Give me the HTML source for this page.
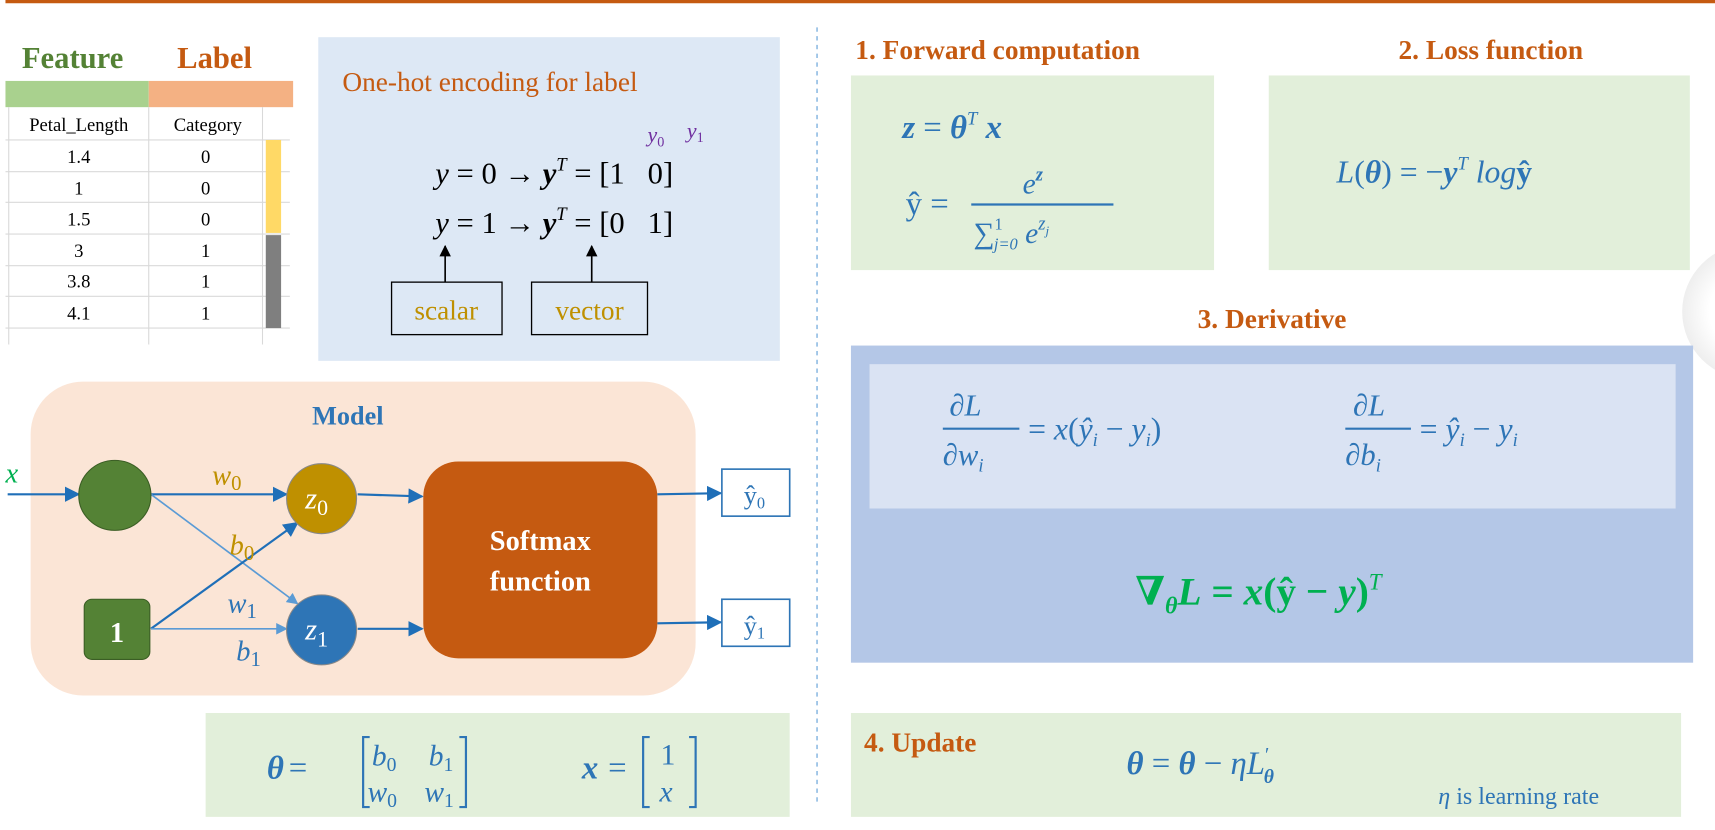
<!DOCTYPE html>
<html><head><meta charset="utf-8"><style>
body{margin:0;background:#fff;}
svg{display:block;font-family:"Liberation Serif","DejaVu Serif",serif;}
.m{font-style:italic;}
</style></head><body>
<svg width="1715" height="830" viewBox="0 0 1568 759" preserveAspectRatio="none">
<defs>
<marker id="ab" viewBox="0 0 10 10" refX="9" refY="5" markerWidth="7" markerHeight="7" orient="auto"><path d="M0,0L10,5L0,10z" fill="#1f6fb8"/></marker>
<marker id="ak" viewBox="0 0 10 10" refX="9" refY="5" markerWidth="7" markerHeight="7" orient="auto"><path d="M0,0L10,5L0,10z" fill="#000"/></marker>
<marker id="al" viewBox="0 0 10 10" refX="9" refY="5" markerWidth="7" markerHeight="7" orient="auto"><path d="M0,0L10,5L0,10z" fill="#5b9bd5"/></marker>
<radialGradient id="sh"><stop offset="0.6" stop-color="#fff"/><stop offset="1" stop-color="#eee"/></radialGradient>
</defs>
<line x1="5" y1="1.5" x2="1568" y2="1.5" stroke="#c55a11" stroke-width="3"/>

<g>
<text x="20" y="62" font-size="28" font-weight="bold" fill="#548235">Feature</text>
<text x="162" y="62" font-size="28" font-weight="bold" fill="#c55a11">Label</text>
<rect x="5" y="74" width="131" height="24" fill="#a9d18e"/>
<rect x="136" y="74" width="132" height="24" fill="#f4b183"/>
<g stroke="#d9d9d9" stroke-width="1">
<line x1="5" y1="128" x2="265" y2="128"/><line x1="5" y1="157" x2="265" y2="157"/><line x1="5" y1="185" x2="265" y2="185"/><line x1="5" y1="214" x2="265" y2="214"/><line x1="5" y1="243" x2="265" y2="243"/><line x1="5" y1="271" x2="265" y2="271"/><line x1="5" y1="300" x2="265" y2="300"/>
<line x1="8" y1="98" x2="8" y2="315"/><line x1="136" y1="98" x2="136" y2="315"/><line x1="240" y1="98" x2="240" y2="315"/>
</g>
<g font-size="17" text-anchor="middle">
<text x="72" y="120">Petal_Length</text><text x="190" y="120">Category</text>
<text x="72" y="149">1.4</text><text x="188" y="149">0</text>
<text x="72" y="178">1</text><text x="188" y="178">0</text>
<text x="72" y="206">1.5</text><text x="188" y="206">0</text>
<text x="72" y="235">3</text><text x="188" y="235">1</text>
<text x="72" y="263">3.8</text><text x="188" y="263">1</text>
<text x="72" y="292">4.1</text><text x="188" y="292">1</text>
</g>
<rect x="243" y="128" width="14" height="85" fill="#ffd966"/>
<rect x="243" y="215" width="14" height="85" fill="#7f7f7f"/>
</g>

<g>
<rect x="291" y="34" width="422" height="296" fill="#dde8f5"/>
<text x="313" y="83" font-size="25" fill="#c55a11">One-hot encoding for label</text>
<text x="592" y="130" font-size="20" fill="#7030a0" class="m">y<tspan font-size="13" dy="4" font-style="normal">0</tspan></text>
<text x="628" y="126" font-size="20" fill="#7030a0" class="m">y<tspan font-size="13" dy="4" font-style="normal">1</tspan></text>
<text x="398" y="168" font-size="28"><tspan class="m">y</tspan> = 0 → <tspan font-weight="bold" class="m">y</tspan><tspan class="m" font-size="17" dy="-12">T</tspan><tspan dy="12"> = [1&#160;&#160;&#160;0]</tspan></text>
<text x="398" y="213" font-size="28"><tspan class="m">y</tspan> = 1 → <tspan font-weight="bold" class="m">y</tspan><tspan class="m" font-size="17" dy="-12">T</tspan><tspan dy="12"> = [0&#160;&#160;&#160;1]</tspan></text>
<line x1="407" y1="258" x2="407" y2="225" stroke="#000" stroke-width="1.5" marker-end="url(#ak)"/>
<line x1="541" y1="258" x2="541" y2="225" stroke="#000" stroke-width="1.5" marker-end="url(#ak)"/>
<rect x="358" y="258" width="101" height="48" fill="none" stroke="#000" stroke-width="1.2"/>
<rect x="486" y="258" width="106" height="48" fill="none" stroke="#000" stroke-width="1.2"/>
<text x="408" y="292" font-size="25" fill="#bf9000" text-anchor="middle">scalar</text>
<text x="539" y="292" font-size="25" fill="#bf9000" text-anchor="middle">vector</text>
</g>

<line x1="747" y1="25" x2="747" y2="735" stroke="#5b9bd5" stroke-width="1" stroke-dasharray="4,4"/>

<g>
<rect x="28" y="349" width="608" height="287" rx="48" fill="#fbe5d6"/>
<text x="318" y="388" font-size="24" font-weight="bold" fill="#2e75b6" text-anchor="middle">Model</text>
<text x="5" y="441" font-size="26" fill="#00b050" class="m">x</text>
<line x1="7" y1="452" x2="72" y2="452" stroke="#1f6fb8" stroke-width="2" marker-end="url(#ab)"/>
<line x1="138" y1="452" x2="262" y2="452" stroke="#1f6fb8" stroke-width="2" marker-end="url(#ab)"/>
<line x1="138" y1="452" x2="272" y2="552" stroke="#5b9bd5" stroke-width="1.5" marker-end="url(#al)"/>
<line x1="138" y1="575" x2="272" y2="478" stroke="#1f6fb8" stroke-width="2" marker-end="url(#ab)"/>
<line x1="138" y1="575" x2="262" y2="575" stroke="#5b9bd5" stroke-width="1.5" marker-end="url(#al)"/>
<line x1="327" y1="452" x2="386" y2="454" stroke="#1f6fb8" stroke-width="2" marker-end="url(#ab)"/>
<line x1="327" y1="575" x2="386" y2="575" stroke="#1f6fb8" stroke-width="2" marker-end="url(#ab)"/>
<line x1="601" y1="452" x2="659" y2="451" stroke="#1f6fb8" stroke-width="2" marker-end="url(#ab)"/>
<line x1="601" y1="570" x2="659" y2="569" stroke="#1f6fb8" stroke-width="2" marker-end="url(#ab)"/>
<ellipse cx="105" cy="453" rx="33" ry="32" fill="#548235" stroke="#3b5e25"/>
<rect x="77" y="548" width="60" height="55" rx="7" fill="#548235" stroke="#3b5e25"/>
<text x="107" y="587" font-size="26" font-weight="bold" fill="#fff" text-anchor="middle">1</text>
<ellipse cx="294" cy="456" rx="32" ry="32" fill="#bf9000" stroke="#888"/>
<ellipse cx="294" cy="576" rx="32" ry="32" fill="#2e75b6" stroke="#888"/>
<text x="279" y="465" font-size="28" fill="#fff" class="m">z<tspan font-size="20" dy="6" font-style="normal">0</tspan></text>
<text x="279" y="585" font-size="28" fill="#fff" class="m">z<tspan font-size="20" dy="6" font-style="normal">1</tspan></text>
<text x="194" y="443" font-size="26" fill="#bf9000" class="m">w<tspan font-size="19" dy="5" font-style="normal">0</tspan></text>
<text x="210" y="507" font-size="26" fill="#bf9000" class="m">b<tspan font-size="19" dy="5" font-style="normal">0</tspan></text>
<text x="208" y="560" font-size="26" fill="#2e75b6" class="m">w<tspan font-size="19" dy="5" font-style="normal">1</tspan></text>
<text x="216" y="604" font-size="26" fill="#2e75b6" class="m">b<tspan font-size="19" dy="5" font-style="normal">1</tspan></text>
<rect x="387" y="422" width="214" height="180" rx="32" fill="#c55a11"/>
<text x="494" y="503" font-size="26" font-weight="bold" fill="#fff" text-anchor="middle">Softmax</text>
<text x="494" y="540" font-size="26" font-weight="bold" fill="#fff" text-anchor="middle">function</text>
<rect x="660" y="429" width="62" height="43" fill="#fff" stroke="#2e75b6" stroke-width="1.5"/>
<rect x="660" y="548" width="62" height="43" fill="#fff" stroke="#2e75b6" stroke-width="1.5"/>
<text x="680" y="461" font-size="24" fill="#2e75b6">ŷ<tspan font-size="15" dy="4">0</tspan></text>
<text x="680" y="580" font-size="24" fill="#2e75b6">ŷ<tspan font-size="15" dy="4">1</tspan></text>
</g>

<g fill="#2e75b6">
<rect x="188" y="652" width="534" height="95" fill="#e2efda"/>
<text x="244" y="712" font-size="30" font-weight="bold" class="m">θ</text>
<text x="264" y="712" font-size="30">=</text>
<path d="M338,674 h-6 v64 h6 M420,674 h6 v64 h-6" fill="none" stroke="#2e75b6" stroke-width="2"/>
<text x="340" y="700" font-size="27" class="m">b<tspan font-size="18" dy="5" font-style="normal">0</tspan></text>
<text x="392" y="700" font-size="27" class="m">b<tspan font-size="18" dy="5" font-style="normal">1</tspan></text>
<text x="336" y="733" font-size="27" class="m">w<tspan font-size="18" dy="5" font-style="normal">0</tspan></text>
<text x="388" y="733" font-size="27" class="m">w<tspan font-size="18" dy="5" font-style="normal">1</tspan></text>
<text x="532" y="712" font-size="30" font-weight="bold" class="m">x</text>
<text x="556" y="712" font-size="30">=</text>
<path d="M594,674 h-6 v64 h6 M630,674 h6 v64 h-6" fill="none" stroke="#2e75b6" stroke-width="2"/>
<text x="604" y="699" font-size="27">1</text>
<text x="603" y="733" font-size="27" class="m">x</text>
</g>

<g>
<text x="782" y="54" font-size="25" font-weight="bold" fill="#c55a11">1. Forward computation</text>
<rect x="778" y="69" width="332" height="178" fill="#e2efda"/>
<text x="825" y="126" font-size="30" fill="#2e75b6" font-weight="bold" class="m">z<tspan font-weight="normal" font-style="normal"> = </tspan>θ<tspan font-size="17" dy="-12" font-weight="normal">T</tspan><tspan dy="12"> x</tspan></text>
<text x="828" y="196" font-size="30" fill="#2e75b6">ŷ =</text>
<line x1="888" y1="187" x2="1018" y2="187" stroke="#2e75b6" stroke-width="2"/>
<text x="935" y="177" font-size="27" fill="#2e75b6" class="m">e<tspan font-size="17" dy="-12" font-weight="bold">z</tspan></text>
<text x="890" y="222" font-size="27" fill="#2e75b6">∑<tspan font-size="15" dy="-12">1</tspan><tspan font-size="15" dx="-8" dy="18" class="m">j=0</tspan><tspan class="m" dy="-6"> e</tspan><tspan font-size="17" dy="-12" class="m">z</tspan><tspan font-size="12" dy="5" class="m">j</tspan></text>
</g>
<g>
<text x="1363" y="54" font-size="25" font-weight="bold" fill="#c55a11" text-anchor="middle">2. Loss function</text>
<rect x="1160" y="69" width="385" height="178" fill="#e2efda"/>
<text x="1222" y="167" font-size="29" fill="#2e75b6"><tspan class="m">L</tspan>(<tspan font-weight="bold" class="m">θ</tspan>) = −<tspan font-weight="bold" class="m">y</tspan><tspan font-size="17" dy="-12" class="m">T</tspan><tspan dy="12" class="m"> log</tspan><tspan font-weight="bold">ŷ</tspan></text>
</g>
<circle cx="1600" cy="285" r="62" fill="url(#sh)"/>
<g fill="#2e75b6">
<text x="1163" y="300" font-size="25" font-weight="bold" fill="#c55a11" text-anchor="middle">3. Derivative</text>
<rect x="778" y="316" width="770" height="290" fill="#b4c7e7"/>
<rect x="795" y="333" width="737" height="132" fill="#dae3f3"/>
<text x="868" y="380" font-size="28" class="m">∂L</text>
<line x1="862" y1="392" x2="932" y2="392" stroke="#2e75b6" stroke-width="2"/>
<text x="862" y="425" font-size="28" class="m">∂w<tspan font-size="17" dy="6">i</tspan></text>
<text x="940" y="402" font-size="29">= <tspan class="m">x</tspan>(<tspan class="m">ŷ</tspan><tspan font-size="17" dy="6" class="m">i</tspan><tspan dy="-6"> − </tspan><tspan class="m">y</tspan><tspan font-size="17" dy="6" class="m">i</tspan><tspan dy="-6">)</tspan></text>
<text x="1237" y="380" font-size="28" class="m">∂L</text>
<line x1="1230" y1="392" x2="1290" y2="392" stroke="#2e75b6" stroke-width="2"/>
<text x="1230" y="425" font-size="28" class="m">∂b<tspan font-size="17" dy="6">i</tspan></text>
<text x="1298" y="402" font-size="29">= <tspan class="m">ŷ</tspan><tspan font-size="17" dy="6" class="m">i</tspan><tspan dy="-6"> − </tspan><tspan class="m">y</tspan><tspan font-size="17" dy="6" class="m">i</tspan></text>
<text x="1038" y="553" font-size="36" fill="#00b050" font-weight="bold"><tspan class="m">∇</tspan><tspan font-size="22" dy="8" class="m">θ</tspan><tspan dy="-8" class="m">L</tspan> = <tspan class="m">x</tspan>(ŷ − <tspan class="m">y</tspan>)<tspan font-size="21" dy="-14" font-weight="normal" class="m">T</tspan></text>
</g>
<g>
<rect x="778" y="652" width="759" height="95" fill="#e2efda"/>
<text x="790" y="687" font-size="25" font-weight="bold" fill="#c55a11">4. Update</text>
<text x="1030" y="708" font-size="30" fill="#2e75b6"><tspan font-weight="bold" class="m">θ</tspan> = <tspan font-weight="bold" class="m">θ</tspan> − <tspan class="m">ηL</tspan><tspan font-size="18" dy="-12">′</tspan><tspan font-size="18" dx="-5" dy="20" font-weight="bold" class="m">θ</tspan></text>
<text x="1315" y="735" font-size="22" fill="#2e75b6"><tspan class="m">η</tspan> is learning rate</text>
</g>
</svg>
</body></html>
